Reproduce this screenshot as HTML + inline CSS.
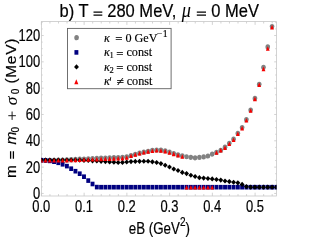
<!DOCTYPE html>
<html><head><meta charset="utf-8"><title>chart</title>
<style>
html,body{margin:0;padding:0;background:#fff;}
body{width:322px;height:240px;overflow:hidden;font-family:"Liberation Sans",sans-serif;}
svg{display:block}
.s{font-family:"Liberation Sans",sans-serif;fill:#000;stroke:#000;stroke-width:0.22px}
.f{font-family:"Liberation Serif",serif;fill:#000;stroke:#000;stroke-width:0.15px}
</style></head><body>
<svg width="322" height="240" viewBox="0 0 322 240">
<rect width="322" height="240" fill="#fff"/>

<rect x="41.4" y="21.6" width="235.10" height="174.40" fill="none" stroke="#c8c8c8" stroke-width="0.8"/>
<path d="M41.40 196.0v-3.3M41.40 21.6v3.3M49.95 196.0v-1.9M49.95 21.6v1.9M58.50 196.0v-1.9M58.50 21.6v1.9M67.04 196.0v-1.9M67.04 21.6v1.9M75.59 196.0v-1.9M75.59 21.6v1.9M84.14 196.0v-3.3M84.14 21.6v3.3M92.69 196.0v-1.9M92.69 21.6v1.9M101.24 196.0v-1.9M101.24 21.6v1.9M109.78 196.0v-1.9M109.78 21.6v1.9M118.33 196.0v-1.9M118.33 21.6v1.9M126.88 196.0v-3.3M126.88 21.6v3.3M135.43 196.0v-1.9M135.43 21.6v1.9M143.98 196.0v-1.9M143.98 21.6v1.9M152.52 196.0v-1.9M152.52 21.6v1.9M161.07 196.0v-1.9M161.07 21.6v1.9M169.62 196.0v-3.3M169.62 21.6v3.3M178.17 196.0v-1.9M178.17 21.6v1.9M186.72 196.0v-1.9M186.72 21.6v1.9M195.26 196.0v-1.9M195.26 21.6v1.9M203.81 196.0v-1.9M203.81 21.6v1.9M212.36 196.0v-3.3M212.36 21.6v3.3M220.91 196.0v-1.9M220.91 21.6v1.9M229.46 196.0v-1.9M229.46 21.6v1.9M238.00 196.0v-1.9M238.00 21.6v1.9M246.55 196.0v-1.9M246.55 21.6v1.9M255.10 196.0v-3.3M255.10 21.6v3.3M263.65 196.0v-1.9M263.65 21.6v1.9M272.20 196.0v-1.9M272.20 21.6v1.9M41.4 193.45h2.3M276.5 193.45h-2.3M41.4 186.87h1.3M276.5 186.87h-1.3M41.4 180.29h1.3M276.5 180.29h-1.3M41.4 173.71h1.3M276.5 173.71h-1.3M41.4 167.13h2.3M276.5 167.13h-2.3M41.4 160.55h1.3M276.5 160.55h-1.3M41.4 153.97h1.3M276.5 153.97h-1.3M41.4 147.39h1.3M276.5 147.39h-1.3M41.4 140.81h2.3M276.5 140.81h-2.3M41.4 134.23h1.3M276.5 134.23h-1.3M41.4 127.65h1.3M276.5 127.65h-1.3M41.4 121.07h1.3M276.5 121.07h-1.3M41.4 114.49h2.3M276.5 114.49h-2.3M41.4 107.91h1.3M276.5 107.91h-1.3M41.4 101.33h1.3M276.5 101.33h-1.3M41.4 94.75h1.3M276.5 94.75h-1.3M41.4 88.17h2.3M276.5 88.17h-2.3M41.4 81.59h1.3M276.5 81.59h-1.3M41.4 75.01h1.3M276.5 75.01h-1.3M41.4 68.43h1.3M276.5 68.43h-1.3M41.4 61.85h2.3M276.5 61.85h-2.3M41.4 55.27h1.3M276.5 55.27h-1.3M41.4 48.69h1.3M276.5 48.69h-1.3M41.4 42.11h1.3M276.5 42.11h-1.3M41.4 35.53h2.3M276.5 35.53h-2.3M41.4 28.95h1.3M276.5 28.95h-1.3M41.4 22.37h1.3M276.5 22.37h-1.3" stroke="#c8c8c8" stroke-width="0.8" fill="none"/>
<clipPath id="cp"><rect x="41.4" y="21.6" width="235.10" height="174.40"/></clipPath><g clip-path="url(#cp)">
<g fill="#828282">
<ellipse cx="41.25" cy="160.30" rx="2.3" ry="2.6"/>
<ellipse cx="45.52" cy="160.30" rx="2.3" ry="2.6"/>
<ellipse cx="49.80" cy="160.30" rx="2.3" ry="2.6"/>
<ellipse cx="54.07" cy="160.30" rx="2.3" ry="2.6"/>
<ellipse cx="58.35" cy="160.20" rx="2.3" ry="2.6"/>
<ellipse cx="62.62" cy="160.00" rx="2.3" ry="2.6"/>
<ellipse cx="66.89" cy="159.80" rx="2.3" ry="2.6"/>
<ellipse cx="71.17" cy="159.60" rx="2.3" ry="2.6"/>
<ellipse cx="75.44" cy="159.40" rx="2.3" ry="2.6"/>
<ellipse cx="79.72" cy="159.20" rx="2.3" ry="2.6"/>
<ellipse cx="83.99" cy="159.00" rx="2.3" ry="2.6"/>
<ellipse cx="88.26" cy="158.80" rx="2.3" ry="2.6"/>
<ellipse cx="92.54" cy="158.60" rx="2.3" ry="2.6"/>
<ellipse cx="96.81" cy="158.40" rx="2.3" ry="2.6"/>
<ellipse cx="101.09" cy="158.20" rx="2.3" ry="2.6"/>
<ellipse cx="105.36" cy="158.10" rx="2.3" ry="2.6"/>
<ellipse cx="109.63" cy="157.90" rx="2.3" ry="2.6"/>
<ellipse cx="113.91" cy="157.70" rx="2.3" ry="2.6"/>
<ellipse cx="118.18" cy="157.50" rx="2.3" ry="2.6"/>
<ellipse cx="122.46" cy="157.30" rx="2.3" ry="2.6"/>
<ellipse cx="126.73" cy="156.90" rx="2.3" ry="2.6"/>
<ellipse cx="131.00" cy="155.60" rx="2.3" ry="2.6"/>
<ellipse cx="135.28" cy="154.30" rx="2.3" ry="2.6"/>
<ellipse cx="139.55" cy="153.20" rx="2.3" ry="2.6"/>
<ellipse cx="143.83" cy="152.20" rx="2.3" ry="2.6"/>
<ellipse cx="148.10" cy="151.35" rx="2.3" ry="2.6"/>
<ellipse cx="152.37" cy="150.35" rx="2.3" ry="2.6"/>
<ellipse cx="156.65" cy="150.10" rx="2.3" ry="2.6"/>
<ellipse cx="160.92" cy="150.20" rx="2.3" ry="2.6"/>
<ellipse cx="165.20" cy="150.80" rx="2.3" ry="2.6"/>
<ellipse cx="169.47" cy="152.00" rx="2.3" ry="2.6"/>
<ellipse cx="173.74" cy="153.50" rx="2.3" ry="2.6"/>
<ellipse cx="178.02" cy="154.80" rx="2.3" ry="2.6"/>
<ellipse cx="182.29" cy="155.85" rx="2.3" ry="2.6"/>
<ellipse cx="186.57" cy="156.75" rx="2.3" ry="2.6"/>
<ellipse cx="190.84" cy="157.30" rx="2.3" ry="2.6"/>
<ellipse cx="195.11" cy="157.85" rx="2.3" ry="2.6"/>
<ellipse cx="199.39" cy="157.40" rx="2.3" ry="2.6"/>
<ellipse cx="203.66" cy="156.90" rx="2.3" ry="2.6"/>
<ellipse cx="207.94" cy="156.00" rx="2.3" ry="2.6"/>
<ellipse cx="212.21" cy="154.10" rx="2.3" ry="2.6"/>
<ellipse cx="216.48" cy="152.40" rx="2.3" ry="2.6"/>
<ellipse cx="220.76" cy="150.30" rx="2.3" ry="2.6"/>
<ellipse cx="225.03" cy="147.20" rx="2.3" ry="2.6"/>
<ellipse cx="229.31" cy="143.30" rx="2.3" ry="2.6"/>
<ellipse cx="233.58" cy="139.20" rx="2.3" ry="2.6"/>
<ellipse cx="237.85" cy="133.30" rx="2.3" ry="2.6"/>
<ellipse cx="242.13" cy="127.60" rx="2.3" ry="2.6"/>
<ellipse cx="246.40" cy="119.70" rx="2.3" ry="2.6"/>
<ellipse cx="250.68" cy="110.00" rx="2.3" ry="2.6"/>
<ellipse cx="254.95" cy="98.40" rx="2.3" ry="2.6"/>
<ellipse cx="259.22" cy="84.30" rx="2.3" ry="2.6"/>
<ellipse cx="263.50" cy="67.30" rx="2.3" ry="2.6"/>
<ellipse cx="267.77" cy="46.90" rx="2.3" ry="2.6"/>
<ellipse cx="272.05" cy="26.60" rx="2.3" ry="2.6"/>
</g><g fill="#000080">
<rect x="39.30" y="157.90" width="3.9" height="4.6"/>
<rect x="43.57" y="158.10" width="3.9" height="4.6"/>
<rect x="47.85" y="158.60" width="3.9" height="4.6"/>
<rect x="52.12" y="159.40" width="3.9" height="4.6"/>
<rect x="56.40" y="160.50" width="3.9" height="4.6"/>
<rect x="60.67" y="162.00" width="3.9" height="4.6"/>
<rect x="64.94" y="163.80" width="3.9" height="4.6"/>
<rect x="69.22" y="166.40" width="3.9" height="4.6"/>
<rect x="73.49" y="168.90" width="3.9" height="4.6"/>
<rect x="77.77" y="171.40" width="3.9" height="4.6"/>
<rect x="82.04" y="174.40" width="3.9" height="4.6"/>
<rect x="86.31" y="178.30" width="3.9" height="4.6"/>
<rect x="90.59" y="181.70" width="3.9" height="4.6"/>
<rect x="94.86" y="184.80" width="3.9" height="4.6"/>
<rect x="99.14" y="184.90" width="3.9" height="4.6"/>
<rect x="103.41" y="184.90" width="3.9" height="4.6"/>
<rect x="107.68" y="184.90" width="3.9" height="4.6"/>
<rect x="111.96" y="184.90" width="3.9" height="4.6"/>
<rect x="116.23" y="184.90" width="3.9" height="4.6"/>
<rect x="120.51" y="184.90" width="3.9" height="4.6"/>
<rect x="124.78" y="184.90" width="3.9" height="4.6"/>
<rect x="129.05" y="184.90" width="3.9" height="4.6"/>
<rect x="133.33" y="184.90" width="3.9" height="4.6"/>
<rect x="137.60" y="184.90" width="3.9" height="4.6"/>
<rect x="141.88" y="184.90" width="3.9" height="4.6"/>
<rect x="146.15" y="184.90" width="3.9" height="4.6"/>
<rect x="150.42" y="184.90" width="3.9" height="4.6"/>
<rect x="154.70" y="184.90" width="3.9" height="4.6"/>
<rect x="158.97" y="184.90" width="3.9" height="4.6"/>
<rect x="163.25" y="184.90" width="3.9" height="4.6"/>
<rect x="167.52" y="184.90" width="3.9" height="4.6"/>
<rect x="171.79" y="184.90" width="3.9" height="4.6"/>
<rect x="176.07" y="184.90" width="3.9" height="4.6"/>
<rect x="180.34" y="184.90" width="3.9" height="4.6"/>
<rect x="184.62" y="184.90" width="3.9" height="4.6"/>
<rect x="188.89" y="184.90" width="3.9" height="4.6"/>
<rect x="193.16" y="184.90" width="3.9" height="4.6"/>
<rect x="197.44" y="184.90" width="3.9" height="4.6"/>
<rect x="201.71" y="184.90" width="3.9" height="4.6"/>
<rect x="205.99" y="184.90" width="3.9" height="4.6"/>
<rect x="210.26" y="184.90" width="3.9" height="4.6"/>
<rect x="214.53" y="184.90" width="3.9" height="4.6"/>
<rect x="218.81" y="184.90" width="3.9" height="4.6"/>
<rect x="223.08" y="184.90" width="3.9" height="4.6"/>
<rect x="227.36" y="184.90" width="3.9" height="4.6"/>
<rect x="231.63" y="184.90" width="3.9" height="4.6"/>
<rect x="235.90" y="184.90" width="3.9" height="4.6"/>
<rect x="240.18" y="184.90" width="3.9" height="4.6"/>
<rect x="244.45" y="184.90" width="3.9" height="4.6"/>
<rect x="248.73" y="184.90" width="3.9" height="4.6"/>
<rect x="253.00" y="184.90" width="3.9" height="4.6"/>
<rect x="257.27" y="184.90" width="3.9" height="4.6"/>
<rect x="261.55" y="184.90" width="3.9" height="4.6"/>
<rect x="265.82" y="184.90" width="3.9" height="4.6"/>
<rect x="270.10" y="184.90" width="3.9" height="4.6"/>
<rect x="274.37" y="184.90" width="3.9" height="4.6"/>
</g><g fill="#000">
<path d="M41.25 157.40l2.45 2.6l-2.45 2.6l-2.45 -2.6z"/>
<path d="M45.52 157.40l2.45 2.6l-2.45 2.6l-2.45 -2.6z"/>
<path d="M49.80 157.40l2.45 2.6l-2.45 2.6l-2.45 -2.6z"/>
<path d="M54.07 157.40l2.45 2.6l-2.45 2.6l-2.45 -2.6z"/>
<path d="M58.35 157.40l2.45 2.6l-2.45 2.6l-2.45 -2.6z"/>
<path d="M62.62 157.40l2.45 2.6l-2.45 2.6l-2.45 -2.6z"/>
<path d="M66.89 157.40l2.45 2.6l-2.45 2.6l-2.45 -2.6z"/>
<path d="M71.17 157.40l2.45 2.6l-2.45 2.6l-2.45 -2.6z"/>
<path d="M75.44 157.40l2.45 2.6l-2.45 2.6l-2.45 -2.6z"/>
<path d="M79.72 157.50l2.45 2.6l-2.45 2.6l-2.45 -2.6z"/>
<path d="M83.99 157.70l2.45 2.6l-2.45 2.6l-2.45 -2.6z"/>
<path d="M88.26 157.90l2.45 2.6l-2.45 2.6l-2.45 -2.6z"/>
<path d="M92.54 158.20l2.45 2.6l-2.45 2.6l-2.45 -2.6z"/>
<path d="M96.81 158.40l2.45 2.6l-2.45 2.6l-2.45 -2.6z"/>
<path d="M101.09 158.70l2.45 2.6l-2.45 2.6l-2.45 -2.6z"/>
<path d="M105.36 159.00l2.45 2.6l-2.45 2.6l-2.45 -2.6z"/>
<path d="M109.63 159.30l2.45 2.6l-2.45 2.6l-2.45 -2.6z"/>
<path d="M113.91 159.60l2.45 2.6l-2.45 2.6l-2.45 -2.6z"/>
<path d="M118.18 159.90l2.45 2.6l-2.45 2.6l-2.45 -2.6z"/>
<path d="M122.46 159.80l2.45 2.6l-2.45 2.6l-2.45 -2.6z"/>
<path d="M126.73 159.40l2.45 2.6l-2.45 2.6l-2.45 -2.6z"/>
<path d="M131.00 159.00l2.45 2.6l-2.45 2.6l-2.45 -2.6z"/>
<path d="M135.28 158.80l2.45 2.6l-2.45 2.6l-2.45 -2.6z"/>
<path d="M139.55 158.70l2.45 2.6l-2.45 2.6l-2.45 -2.6z"/>
<path d="M143.83 158.65l2.45 2.6l-2.45 2.6l-2.45 -2.6z"/>
<path d="M148.10 158.65l2.45 2.6l-2.45 2.6l-2.45 -2.6z"/>
<path d="M152.37 159.20l2.45 2.6l-2.45 2.6l-2.45 -2.6z"/>
<path d="M156.65 159.90l2.45 2.6l-2.45 2.6l-2.45 -2.6z"/>
<path d="M160.92 161.00l2.45 2.6l-2.45 2.6l-2.45 -2.6z"/>
<path d="M165.20 162.65l2.45 2.6l-2.45 2.6l-2.45 -2.6z"/>
<path d="M169.47 164.40l2.45 2.6l-2.45 2.6l-2.45 -2.6z"/>
<path d="M173.74 166.40l2.45 2.6l-2.45 2.6l-2.45 -2.6z"/>
<path d="M178.02 167.90l2.45 2.6l-2.45 2.6l-2.45 -2.6z"/>
<path d="M182.29 169.80l2.45 2.6l-2.45 2.6l-2.45 -2.6z"/>
<path d="M186.57 171.00l2.45 2.6l-2.45 2.6l-2.45 -2.6z"/>
<path d="M190.84 172.65l2.45 2.6l-2.45 2.6l-2.45 -2.6z"/>
<path d="M195.11 173.90l2.45 2.6l-2.45 2.6l-2.45 -2.6z"/>
<path d="M199.39 175.05l2.45 2.6l-2.45 2.6l-2.45 -2.6z"/>
<path d="M203.66 175.50l2.45 2.6l-2.45 2.6l-2.45 -2.6z"/>
<path d="M207.94 175.90l2.45 2.6l-2.45 2.6l-2.45 -2.6z"/>
<path d="M212.21 176.30l2.45 2.6l-2.45 2.6l-2.45 -2.6z"/>
<path d="M216.48 176.90l2.45 2.6l-2.45 2.6l-2.45 -2.6z"/>
<path d="M220.76 177.50l2.45 2.6l-2.45 2.6l-2.45 -2.6z"/>
<path d="M225.03 178.40l2.45 2.6l-2.45 2.6l-2.45 -2.6z"/>
<path d="M229.31 179.00l2.45 2.6l-2.45 2.6l-2.45 -2.6z"/>
<path d="M233.58 179.65l2.45 2.6l-2.45 2.6l-2.45 -2.6z"/>
<path d="M237.85 180.20l2.45 2.6l-2.45 2.6l-2.45 -2.6z"/>
<path d="M242.13 181.80l2.45 2.6l-2.45 2.6l-2.45 -2.6z"/>
<path d="M246.40 184.00l2.45 2.6l-2.45 2.6l-2.45 -2.6z"/>
<path d="M250.68 184.60l2.45 2.6l-2.45 2.6l-2.45 -2.6z"/>
<path d="M254.95 184.60l2.45 2.6l-2.45 2.6l-2.45 -2.6z"/>
<path d="M259.22 184.60l2.45 2.6l-2.45 2.6l-2.45 -2.6z"/>
<path d="M263.50 184.60l2.45 2.6l-2.45 2.6l-2.45 -2.6z"/>
<path d="M267.77 184.60l2.45 2.6l-2.45 2.6l-2.45 -2.6z"/>
<path d="M272.05 184.60l2.45 2.6l-2.45 2.6l-2.45 -2.6z"/>
<path d="M276.32 184.60l2.45 2.6l-2.45 2.6l-2.45 -2.6z"/>
</g><g fill="#f50000">
<path d="M41.25 157.90l1.9 4.6h-3.8z"/>
<path d="M45.52 157.90l1.9 4.6h-3.8z"/>
<path d="M49.80 157.90l1.9 4.6h-3.8z"/>
<path d="M54.07 157.90l1.9 4.6h-3.8z"/>
<path d="M58.35 157.90l1.9 4.6h-3.8z"/>
<path d="M62.62 157.90l1.9 4.6h-3.8z"/>
<path d="M66.89 157.80l1.9 4.6h-3.8z"/>
<path d="M71.17 157.70l1.9 4.6h-3.8z"/>
<path d="M75.44 157.60l1.9 4.6h-3.8z"/>
<path d="M79.72 157.44l1.9 4.6h-3.8z"/>
<path d="M83.99 157.27l1.9 4.6h-3.8z"/>
<path d="M88.26 157.10l1.9 4.6h-3.8z"/>
<path d="M92.54 156.95l1.9 4.6h-3.8z"/>
<path d="M96.81 156.80l1.9 4.6h-3.8z"/>
<path d="M101.09 156.60l1.9 4.6h-3.8z"/>
<path d="M105.36 156.45l1.9 4.6h-3.8z"/>
<path d="M109.63 156.30l1.9 4.6h-3.8z"/>
<path d="M113.91 156.10l1.9 4.6h-3.8z"/>
<path d="M118.18 155.95l1.9 4.6h-3.8z"/>
<path d="M122.46 155.80l1.9 4.6h-3.8z"/>
<path d="M126.73 155.15l1.9 4.6h-3.8z"/>
<path d="M131.00 153.50l1.9 4.6h-3.8z"/>
<path d="M135.28 152.20l1.9 4.6h-3.8z"/>
<path d="M139.55 151.00l1.9 4.6h-3.8z"/>
<path d="M143.83 150.00l1.9 4.6h-3.8z"/>
<path d="M148.10 149.10l1.9 4.6h-3.8z"/>
<path d="M152.37 148.40l1.9 4.6h-3.8z"/>
<path d="M156.65 148.00l1.9 4.6h-3.8z"/>
<path d="M160.92 148.15l1.9 4.6h-3.8z"/>
<path d="M165.20 148.80l1.9 4.6h-3.8z"/>
<path d="M169.47 150.20l1.9 4.6h-3.8z"/>
<path d="M173.74 151.55l1.9 4.6h-3.8z"/>
<path d="M178.02 152.80l1.9 4.6h-3.8z"/>
<path d="M182.29 154.20l1.9 4.6h-3.8z"/>
<path d="M186.57 184.90l1.9 4.6h-3.8z"/>
<path d="M190.84 184.90l1.9 4.6h-3.8z"/>
<path d="M195.11 184.90l1.9 4.6h-3.8z"/>
<path d="M199.39 184.90l1.9 4.6h-3.8z"/>
<path d="M203.66 184.90l1.9 4.6h-3.8z"/>
<path d="M207.94 184.90l1.9 4.6h-3.8z"/>
<path d="M212.21 184.90l1.9 4.6h-3.8z"/>
<path d="M216.48 150.20l1.9 4.6h-3.8z"/>
<path d="M220.76 147.80l1.9 4.6h-3.8z"/>
<path d="M225.03 145.40l1.9 4.6h-3.8z"/>
<path d="M229.31 141.50l1.9 4.6h-3.8z"/>
<path d="M233.58 137.40l1.9 4.6h-3.8z"/>
<path d="M237.85 131.50l1.9 4.6h-3.8z"/>
<path d="M242.13 125.80l1.9 4.6h-3.8z"/>
<path d="M246.40 117.90l1.9 4.6h-3.8z"/>
<path d="M250.68 108.20l1.9 4.6h-3.8z"/>
<path d="M254.95 96.60l1.9 4.6h-3.8z"/>
<path d="M259.22 82.50l1.9 4.6h-3.8z"/>
<path d="M263.50 66.60l1.9 4.6h-3.8z"/>
<path d="M267.77 46.20l1.9 4.6h-3.8z"/>
<path d="M272.05 24.80l1.9 4.6h-3.8z"/>
</g></g>
<g opacity="0.999">
<rect x="67.5" y="28.4" width="103.6" height="60.3" fill="#fff" stroke="#606060" stroke-width="0.9"/>
<g fill="#828282"><ellipse cx="76.60" cy="37.70" rx="2.3" ry="2.6"/></g>
<g fill="#000080"><rect x="74.45" y="50.10" width="3.9" height="4.6"/></g>
<g fill="#000"><path d="M76.50 64.30l2.45 2.6l-2.45 2.6l-2.45 -2.6z"/></g>
<g fill="#f50000"><path d="M76.30 79.30l2.05 4.9h-4.1z"/></g>
<text class="f" x="104" y="41.9" font-size="12.2" font-style="italic">κ</text><text class="f" x="115.3" y="43.1" font-size="12.799999999999999">=</text><text class="f" x="125.4" y="41.9" font-size="12.2">0 GeV</text><text class="f" x="156.8" y="36.8" font-size="9.8">−<tspan dx="0.4">1</tspan></text>
<text class="f" x="104" y="56.2" font-size="12.2" font-style="italic">κ</text><text class="f" x="109.6" y="58.4" font-size="8.5">1</text><text class="f" x="116.3" y="57.5" font-size="12.799999999999999">=</text><text class="f" x="126.45" y="56.2" font-size="12.2">const</text>
<text class="f" x="104" y="70.6" font-size="12.2" font-style="italic">κ</text><text class="f" x="109.6" y="72.8" font-size="8.5">2</text><text class="f" x="116.3" y="71.9" font-size="12.799999999999999">=</text><text class="f" x="126.45" y="70.6" font-size="12.2">const</text>
<text class="f" x="104" y="85.3" font-size="12.2" font-style="italic">κ</text><path d="M110.7 77.2L110.2 80.9" stroke="#000" stroke-width="0.9" fill="none"/><text class="f" x="116.6" y="85.6" font-size="13.5">≠</text><text class="f" x="126.7" y="85.3" font-size="12.2">const</text>
<g transform="translate(59.6 17.4) scale(0.87 1)"><text class="s" x="0" y="0" font-size="19" xml:space="preserve">b) T <tspan style="fill:none;stroke:none">=</tspan> 280 MeV, <tspan font-family="Liberation Serif" font-style="italic" font-size="21" dx="1" style="stroke-width:0.05px">μ</tspan><tspan dx="1.5"> </tspan><tspan style="fill:none;stroke:none">=</tspan> 0 MeV</text></g>
<path d="M93.5 12.1H102.3M93.5 15.2H102.3M196.8 12.1H206M196.8 15.2H206M10.6 151.3V158.7M13.4 151.3V158.7" stroke="#000" stroke-width="1.3" fill="none"/>
<g transform="translate(41.20 212.4) scale(0.78 1)"><text class="s" x="0" y="0" font-size="16.6" text-anchor="middle">0.0</text></g>
<g transform="translate(83.94 212.4) scale(0.78 1)"><text class="s" x="0" y="0" font-size="16.6" text-anchor="middle">0.1</text></g>
<g transform="translate(126.68 212.4) scale(0.78 1)"><text class="s" x="0" y="0" font-size="16.6" text-anchor="middle">0.2</text></g>
<g transform="translate(169.42 212.4) scale(0.78 1)"><text class="s" x="0" y="0" font-size="16.6" text-anchor="middle">0.3</text></g>
<g transform="translate(212.16 212.4) scale(0.78 1)"><text class="s" x="0" y="0" font-size="16.6" text-anchor="middle">0.4</text></g>
<g transform="translate(254.90 212.4) scale(0.78 1)"><text class="s" x="0" y="0" font-size="16.6" text-anchor="middle">0.5</text></g>
<g transform="translate(40.1 198.85) scale(0.78 1)"><text class="s" x="0" y="0" font-size="16.6" text-anchor="end">0</text></g>
<g transform="translate(40.1 172.53) scale(0.78 1)"><text class="s" x="0" y="0" font-size="16.6" text-anchor="end">20</text></g>
<g transform="translate(40.1 146.21) scale(0.78 1)"><text class="s" x="0" y="0" font-size="16.6" text-anchor="end">40</text></g>
<g transform="translate(40.1 119.89) scale(0.78 1)"><text class="s" x="0" y="0" font-size="16.6" text-anchor="end">60</text></g>
<g transform="translate(40.1 93.57) scale(0.78 1)"><text class="s" x="0" y="0" font-size="16.6" text-anchor="end">80</text></g>
<g transform="translate(40.1 67.25) scale(0.78 1)"><text class="s" x="0" y="0" font-size="16.6" text-anchor="end">100</text></g>
<g transform="translate(40.1 40.93) scale(0.78 1)"><text class="s" x="0" y="0" font-size="16.6" text-anchor="end">120</text></g>
<g transform="translate(128.8 233.9) scale(0.803 1)"><text class="s" x="0" y="0" font-size="16.6">eB (GeV<tspan dy="-7.6" font-size="12.5">2</tspan><tspan dy="7.6">)</tspan></text></g>
<path d="M12.1 111.5V119.9M8.3 115.7H15.9" stroke="#111" stroke-width="0.95" fill="none"/>
<g transform="translate(16 0) rotate(-90) scale(1 0.93)">
<text class="s" x="-177.9" y="0" font-size="15.5" >m</text>
<text class="s" x="-144.4" y="0" font-size="15.5" font-style="italic">m</text>
<text class="s" x="-132.6" y="2.8" font-size="11.5" textLength="5.6" lengthAdjust="spacingAndGlyphs">0</text>
<text class="s" x="-105.2" y="0.9" font-size="17.5" font-style="italic" style="font-family:'Liberation Serif',serif;stroke-width:0.1px">σ</text>
<text class="s" x="-94.2" y="2.8" font-size="11.5" textLength="5.6" lengthAdjust="spacingAndGlyphs">0</text>
<text class="s" x="-83.6" y="0" font-size="15.5" textLength="45" lengthAdjust="spacing">(MeV)</text>
</g>
</g>
</svg></body></html>
